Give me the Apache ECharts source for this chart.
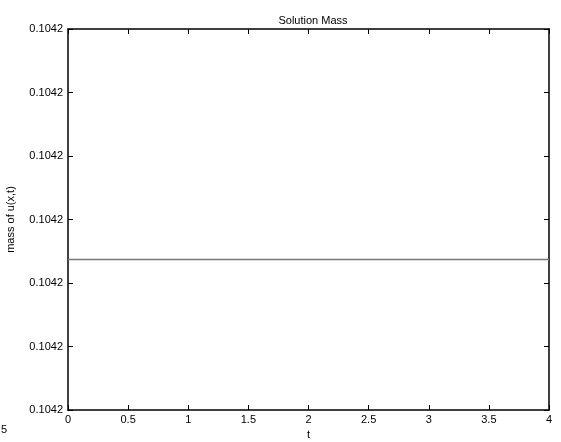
<!DOCTYPE html>
<html>
<head>
<meta charset="utf-8">
<script src="https://cdn.jsdelivr.net/npm/echarts@6/dist/echarts.min.js"></script>
<style>
  html, body { margin: 0; padding: 0; background: #fff; }
  #chart { width: 561px; height: 442px; }
</style>
</head>
<body>
<div id="chart"></div>
<script>
// time samples
var tValues = [0, 0.5, 1, 1.5, 2, 2.5, 3, 3.5, 4]
// mass, in tick units above the lowest tick (the axis ticks all read 0.1042)
var massValues = [2.37, 2.37, 2.37, 2.37, 2.37, 2.37, 2.37, 2.37, 2.37]
var yTickLabels = ['0.1042', '0.1042', '0.1042', '0.1042', '0.1042', '0.1042', '0.1042']

var font = 'Liberation Sans, Arial, sans-serif'
var chart = echarts.init(document.getElementById('chart'))

var tickStyle = { show: true, inside: true, length: 5, lineStyle: { color: '#000', width: 1 } }
var lineStyle = { show: true, onZero: false, lineStyle: { color: '#000', width: 1.5 } }

chart.setOption({
    animation: false,
    backgroundColor: '#fff',
    title: {
        text: 'Solution Mass',
        left: 308,
        top: 10,
        textAlign: 'center',
        textStyle: { fontFamily: font, fontSize: 11, fontWeight: 'normal', color: '#000' }
    },
    grid: { left: 68, right: 12, top: 29, bottom: 32, containLabel: false, outerBoundsMode: 'none' },
    xAxis: [
        {
            type: 'value', min: 0, max: 4, interval: 0.5,
            name: 't', nameLocation: 'middle', nameGap: 17,
            nameTextStyle: { fontFamily: font, fontSize: 11, color: '#000' },
            axisLine: lineStyle, axisTick: tickStyle, splitLine: { show: false },
            axisLabel: { fontFamily: font, fontSize: 11, color: '#000', margin: 4 }
        },
        {
            type: 'value', position: 'top', min: 0, max: 4, interval: 0.5,
            axisLine: lineStyle, axisTick: tickStyle, splitLine: { show: false },
            axisLabel: { show: false }
        }
    ],
    yAxis: [
        {
            type: 'value', min: 0, max: 6, interval: 1,
            name: 'mass of u(x,t)', nameLocation: 'middle', nameGap: 52,
            nameTextStyle: { fontFamily: font, fontSize: 11, color: '#000' },
            axisLine: lineStyle, axisTick: tickStyle, splitLine: { show: false },
            axisLabel: {
                fontFamily: font, fontSize: 11, color: '#000', margin: 5,
                formatter: function (v) { return yTickLabels[Math.round(v)] }
            }
        },
        {
            type: 'value', position: 'right', min: 0, max: 6, interval: 1,
            axisLine: lineStyle, axisTick: tickStyle, splitLine: { show: false },
            axisLabel: { show: false }
        }
    ],
    graphic: [
        {
            type: 'text', left: 1, top: 424,
            style: { text: '5', fontFamily: font, fontSize: 11, fill: '#000' }
        }
    ],
    series: [
        {
            type: 'line',
            data: tValues.map(function (t, i) { return [t, massValues[i]] }),
            symbol: 'none',
            lineStyle: { color: '#777', width: 1.5 }
        }
    ]
})
</script>
</body>
</html>
